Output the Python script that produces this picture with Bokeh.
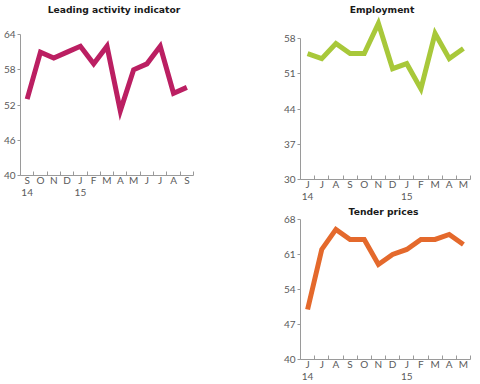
from bokeh.plotting import figure
from bokeh.models import Range1d, FixedTicker, Label
from bokeh.layouts import row, column
from bokeh.embed import file_html
from bokeh.resources import INLINE

# ---- data ----
lead_months = ["S", "O", "N", "D", "J", "F", "M", "A", "M", "J", "J", "A", "S"]
lead_years = {0: "14", 4: "15"}
lead_vals = [53, 61, 60, 61, 62, 59, 62, 51, 58, 59, 62, 54, 55]
lead_ticks = [40, 46, 52, 58, 64]

emp_months = ["J", "J", "A", "S", "O", "N", "D", "J", "F", "M", "A", "M"]
emp_years = {0: "14", 7: "15"}
emp_vals = [55, 54, 57, 55, 55, 61, 52, 53, 48, 59, 54, 56]
emp_ticks = [30, 37, 44, 51, 58]

tender_months = ["J", "J", "A", "S", "O", "N", "D", "J", "F", "M", "A", "M"]
tender_years = {0: "14", 7: "15"}
tender_vals = [50, 62, 66, 64, 64, 59, 61, 62, 64, 64, 65, 63]
tender_ticks = [40, 47, 54, 61, 68]

AXIS_COLOR = "#9a9a9a"
LABEL_COLOR = "#5a5a5a"
TICK_FONT = "Lato"


def make_chart(title, months, years, vals, yticks, color, width, height,
               border_left, border_right, border_bottom, top_gap, title_x, title_gap):
    n = len(months)
    frame_h = height - border_bottom
    y0, y1 = yticks[0], yticks[-1]
    y_end = y0 + (y1 - y0) * frame_h / (frame_h - top_gap)
    p = figure(width=width, height=height, output_backend="svg",
               toolbar_location=None, x_range=Range1d(-0.5, n - 0.5),
               y_range=Range1d(y0, y_end),
               min_border_left=border_left, min_border_bottom=border_bottom,
               min_border_top=0, min_border_right=border_right)
    p.outline_line_color = None
    p.xgrid.visible = False
    p.ygrid.visible = False
    p.background_fill_color = "white"
    p.border_fill_color = "white"

    xs = list(range(n))
    p.line(xs, vals, line_color=color, line_width=5, line_join="miter")

    # x axis: month labels at centres, small inward ticks at boundaries
    xa = p.xaxis[0]
    xa.ticker = FixedTicker(ticks=xs, minor_ticks=[i - 0.5 for i in range(n + 1)])
    overrides = {}
    for i, m in enumerate(months):
        overrides[i] = m + ("\n" + years[i] if i in years else "")
    xa.major_label_overrides = overrides
    xa.major_tick_in = 0
    xa.major_tick_out = 0
    xa.minor_tick_in = 4
    xa.minor_tick_out = 0
    xa.minor_tick_line_color = AXIS_COLOR
    xa.axis_line_color = AXIS_COLOR
    xa.major_label_text_color = LABEL_COLOR
    xa.major_label_text_font = TICK_FONT
    xa.major_label_text_font_size = "10px"
    xa.major_label_text_line_height = 1.0
    xa.major_label_standoff = -2

    # y axis
    ya = p.yaxis[0]
    ya.ticker = FixedTicker(ticks=yticks, minor_ticks=[])
    ya.bounds = (y0, y1)
    ya.major_tick_in = 0
    ya.major_tick_out = 3
    ya.major_tick_line_color = AXIS_COLOR
    ya.axis_line_color = AXIS_COLOR
    ya.major_label_text_color = LABEL_COLOR
    ya.major_label_text_font = TICK_FONT
    ya.major_label_text_font_size = "10px"
    ya.major_label_standoff = 2

    p.add_layout(Label(x=title_x, y=frame_h - title_gap, x_units="screen",
                       y_units="screen", text=title, text_align="center",
                       text_baseline="middle", text_font="DejaVu Sans",
                       text_font_style="bold", text_font_size="9.2px",
                       text_color="#1a1a1a"))
    return p


p1 = make_chart("Leading activity indicator", lead_months, lead_years, lead_vals,
                lead_ticks, "#bb1f62", 250, 210, 20, 57, 35, 34, 93.5, 8.5)
p2 = make_chart("Employment", emp_months, emp_years, emp_vals,
                emp_ticks, "#a8c83a", 230, 205, 49, 10, 26, 38, 81.5, 8.5)
p3 = make_chart("Tender prices", tender_months, tender_years, tender_vals,
                tender_ticks, "#e4692c", 230, 179, 50, 10, 24, 14, 83, 6.5)

layout = row(p1, column(p2, p3))
open("out.html", "w").write(file_html(layout, INLINE))
